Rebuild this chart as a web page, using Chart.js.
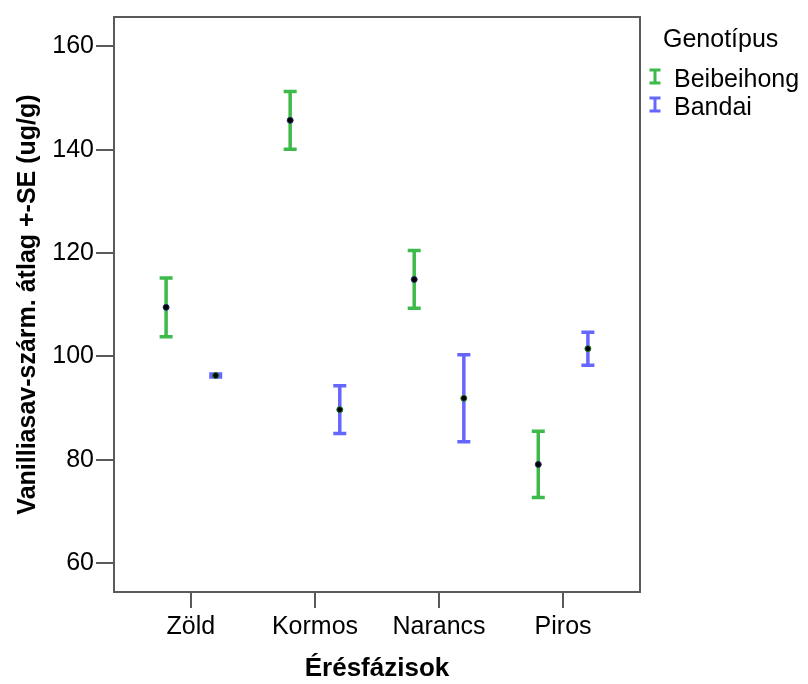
<!DOCTYPE html>
<html lang="hu">
<head>
  <meta charset="utf-8" />
  <title>Vanilliasav-szárm. – Érésfázisok</title>
  <script src="https://cdn.jsdelivr.net/npm/chart.js"></script>
  <style>
    body {
      margin: 0;
      background: #fff;
      overflow: hidden;
    }
    #chart-container {
      width: 808px;
      height: 684px;
    }
  </style>
</head>
<body>
  <div id="chart-container">
    <canvas id="errChart"></canvas>
  </div>

  <script>
    // kategóriák (x tengely)
    const stages = ["Zöld", "Kormos", "Narancs", "Piros"];

    // átlagok és SE a két genotípusra (leolvasva az ábráról)
    const beiMean = [109.5, 145.7, 114.9, 79.1];
    const beiSE   = [5.7, 5.6, 5.6, 6.4];
    const banMean = [96.3, 89.7, 91.9, 101.5];
    const banSE   = [0.3, 4.6, 8.4, 3.2];

    // y tengely feliratai
    const yTicks = [60, 80, 100, 120, 140, 160];

    const seriesNames = ["Beibeihong", "Bandai"];
    const legendTitle = "Genotípus";

    const GREEN = "#3dba4b";
    const BLUE = "#6666ff";
    const AXIS = "#5a5a5a";
    const FONT = "'Liberation Sans', Arial, sans-serif";

    // a két sorozat eltolása a kategórián belül
    const shift = 0.2;

    function toPoints(means, off) {
      return means.map((m, i) => ({ x: i + off, y: m }));
    }

    // hibasávok (±SE) rajzolása a skálákon keresztül
    const errorBars = {
      id: "errorBars",
      beforeDatasetsDraw(chart) {
        const { ctx, scales: { x, y } } = chart;
        ctx.save();
        chart.data.datasets.forEach(ds => {
          ctx.strokeStyle = ds.barColor;
          ctx.lineWidth = 3.5;
          ds.data.forEach((p, i) => {
            const px = x.getPixelForValue(p.x);
            const top = y.getPixelForValue(p.y + ds.se[i]);
            const bot = y.getPixelForValue(p.y - ds.se[i]);
            ctx.beginPath();
            ctx.moveTo(px, top);
            ctx.lineTo(px, bot);
            ctx.moveTo(px - 6.5, top);
            ctx.lineTo(px + 6.5, top);
            ctx.moveTo(px - 6.5, bot);
            ctx.lineTo(px + 6.5, bot);
            ctx.stroke();
          });
        });
        ctx.restore();
      }
    };

    // keret a rajzterület körül + jelmagyarázat
    const frameAndLegend = {
      id: "frameAndLegend",
      afterDraw(chart) {
        const { ctx, chartArea: a } = chart;
        ctx.save();
        ctx.strokeStyle = AXIS;
        ctx.lineWidth = 2;
        ctx.strokeRect(a.left, a.top, a.right - a.left, a.bottom - a.top);

        ctx.fillStyle = "#000";
        ctx.font = "25px " + FONT;
        ctx.textBaseline = "alphabetic";
        ctx.textAlign = "left";
        ctx.fillText(legendTitle, a.right + 23, 47);

        chart.data.datasets.forEach((ds, i) => {
          const base = 87 + i * 28;
          const cx = a.right + 15;
          ctx.strokeStyle = ds.barColor;
          ctx.lineWidth = 3;
          ctx.beginPath();
          ctx.moveTo(cx, base - 17);
          ctx.lineTo(cx, base - 4);
          ctx.moveTo(cx - 5.5, base - 17);
          ctx.lineTo(cx + 5.5, base - 17);
          ctx.moveTo(cx - 5.5, base - 4);
          ctx.lineTo(cx + 5.5, base - 4);
          ctx.stroke();
          ctx.fillStyle = "#000";
          ctx.fillText(ds.label, a.right + 34, base);
        });
        ctx.restore();
      }
    };

    const ctx = document.getElementById("errChart").getContext("2d");
    new Chart(ctx, {
      type: "scatter",
      data: {
        datasets: [
          {
            label: seriesNames[0],
            data: toPoints(beiMean, -shift),
            se: beiSE,
            barColor: GREEN,
            pointRadius: 3,
            pointBorderWidth: 1,
            pointBackgroundColor: "#000",
            pointBorderColor: "#24306e"
          },
          {
            label: seriesNames[1],
            data: toPoints(banMean, shift),
            se: banSE,
            barColor: BLUE,
            pointRadius: 3,
            pointBorderWidth: 1,
            pointBackgroundColor: "#000",
            pointBorderColor: "#1f7a2a"
          }
        ]
      },
      options: {
        responsive: true,
        maintainAspectRatio: false,
        animation: false,
        layout: {
          padding: { left: 0, top: 13, right: 168, bottom: 0 }
        },
        plugins: {
          legend: { display: false },
          tooltip: { enabled: false }
        },
        scales: {
          x: {
            type: "linear",
            min: -0.62,
            max: 3.62,
            afterBuildTicks: s => { s.ticks = stages.map((_, i) => ({ value: i })); },
            afterFit: s => { s.height = 92; },
            border: { display: false },
            grid: {
              drawOnChartArea: false,
              drawTicks: true,
              tickLength: 16,
              color: AXIS,
              lineWidth: 2
            },
            ticks: {
              color: "#000",
              font: { family: FONT, size: 25 },
              padding: 4,
              maxRotation: 0,
              callback: v => stages[v]
            },
            title: {
              display: true,
              text: "Érésfázisok",
              color: "#000",
              font: { family: FONT, size: 26, weight: "bold" },
              padding: { top: 0, bottom: 0 }
            }
          },
          y: {
            min: 54.4,
            max: 165.7,
            afterBuildTicks: s => { s.ticks = yTicks.map(v => ({ value: v })); },
            afterFit: s => { s.width = 114; },
            border: { display: false },
            grid: {
              drawOnChartArea: false,
              drawTicks: true,
              tickLength: 18,
              color: AXIS,
              lineWidth: 2
            },
            ticks: {
              color: "#000",
              font: { family: FONT, size: 25 },
              padding: 2
            },
            title: {
              display: true,
              text: "Vanilliasav-szárm. átlag +-SE (ug/g)",
              color: "#000",
              font: { family: FONT, size: 25, weight: "bold" },
              padding: { top: 13, bottom: 0 }
            }
          }
        }
      },
      plugins: [errorBars, frameAndLegend]
    });
  </script>
</body>
</html>
